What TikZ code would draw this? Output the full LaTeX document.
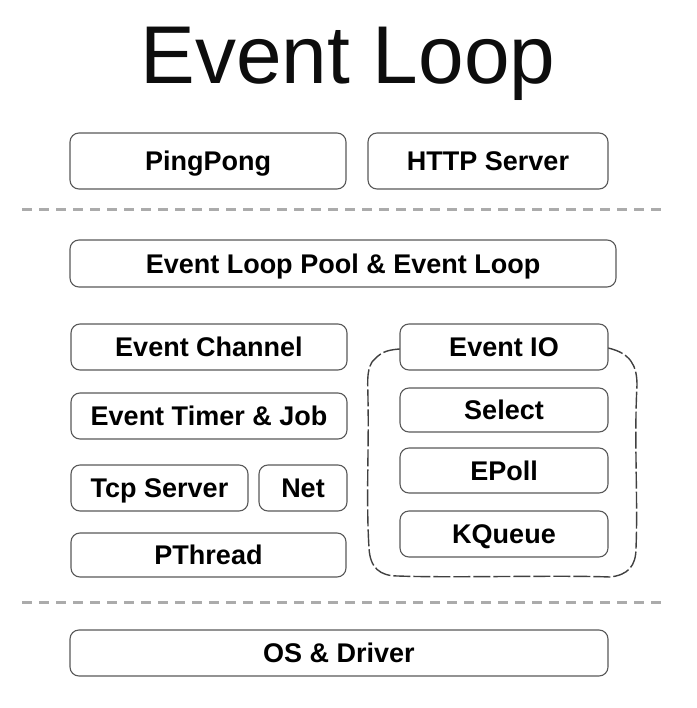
\documentclass[tikz,border=0pt]{standalone}
\usepackage{fontspec}
\setmainfont{Liberation Sans}
\begin{document}
\begin{tikzpicture}[x=1pt,y=-1pt,
  bx/.style={draw=black!65,line width=1.1pt,rounded corners=9pt,fill=white,
    font=\fontsize{27}{32}\selectfont\bfseries,inner sep=0pt,text height=19.5pt,text depth=0pt},
  sep/.style={draw=black!33,line width=3pt,dash pattern=on 10pt off 7pt},
  sketch/.style={draw=black!75,line width=1.4pt,dash pattern=on 17pt off 3pt,line join=round}]
\useasboundingbox (0,0) rectangle (696,708);
\node[font=\fontsize{82}{90}\selectfont,text=black!95,inner sep=0pt,text height=59pt,text depth=0pt] (title) at (348,54.5) {Event Loop};
% sketchy group outline
\draw[sketch] (400,349) .. controls (385,350) and (380,353) .. (372,362)
  .. controls (366,372) and (368,385) .. (368,400)
  .. controls (369,450) and (366,500) .. (369,548)
  .. controls (370,568) and (380,576) .. (398,576)
  .. controls (450,578) and (560,575) .. (610,577)
  .. controls (628,575) and (636,566) .. (636,548)
  .. controls (638,500) and (634,440) .. (637,385)
  .. controls (637,365) and (630,353) .. (608,348);
\node[bx,minimum width=276pt,minimum height=56pt] (ping) at (208,161) {PingPong};
\node[bx,minimum width=240pt,minimum height=56pt] (http) at (488,161) {HTTP Server};
\coordinate (s1a) at (22,210); \coordinate (s1b) at (664,210);
\draw[sep] (s1a) -- (s1b);
\node[bx,minimum width=546pt,minimum height=47pt] (pool) at (343,263.5) {Event Loop Pool \& Event Loop};
\node[bx,minimum width=276pt,minimum height=46pt] (chan) at (209,347) {Event Channel};
\node[bx,minimum width=208pt,minimum height=46pt] (eio) at (504,347) {Event IO};
\node[bx,minimum width=276pt,minimum height=46pt] (timer) at (209,416) {Event Timer \& Job};
\node[bx,minimum width=208pt,minimum height=44pt] (select) at (504,410) {Select};
\node[bx,minimum width=177pt,minimum height=46pt] (tcp) at (159.5,488) {Tcp Server};
\node[bx,minimum width=88pt,minimum height=46pt] (net) at (303,488) {Net};
\node[bx,minimum width=208pt,minimum height=45pt] (epoll) at (504,470.5) {EPoll};
\node[bx,minimum width=208pt,minimum height=46pt] (kq) at (504,534) {KQueue};
\node[bx,minimum width=275pt,minimum height=44pt] (pth) at (208.5,555) {PThread};
\coordinate (s2a) at (22,602); \coordinate (s2b) at (664,602);
\draw[sep] (s2a) -- (s2b);
\node[bx,minimum width=538pt,minimum height=46pt] (os) at (339,653) {OS \& Driver};
\end{tikzpicture}
\end{document}
